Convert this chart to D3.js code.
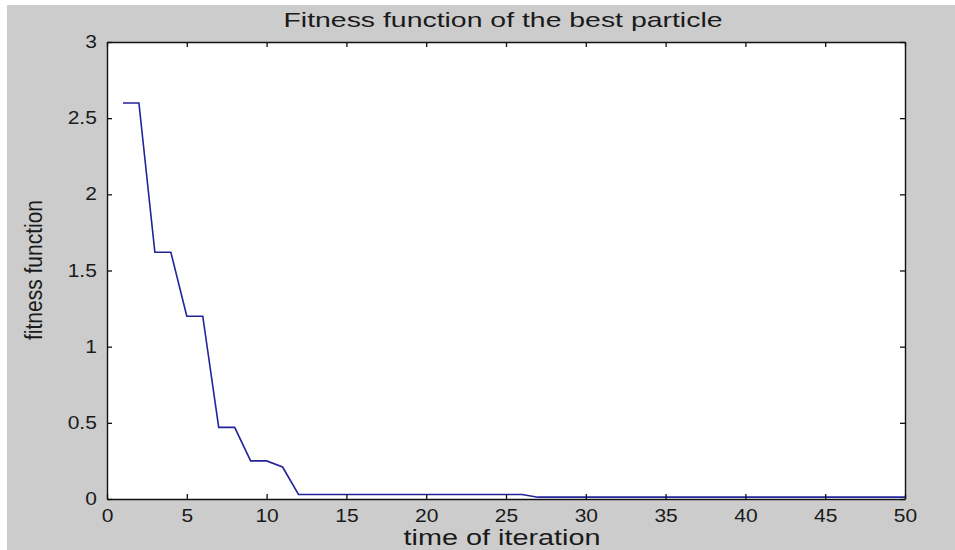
<!DOCTYPE html>
<html lang="en">
<head>
<meta charset="UTF-8">
<title>fitness of best particle</title>
<script src="https://cdn.jsdelivr.net/npm/d3@7"></script>
<style>
	body { margin: 0; background: #fff; }
	svg { display: block; font-family: "Liberation Sans", Arial, sans-serif; }
</style>
</head>
<body>
<svg id="chart" width="955" height="550"></svg>
<script>
// values
let iterations = [1,2,3,4,5,6,7,8,9,10,11,12,13,14,15,16,17,18,19,20,21,22,23,24,25,
	26,27,28,29,30,31,32,33,34,35,36,37,38,39,40,41,42,43,44,45,46,47,48,49,50]
let fitness = [2.6,2.6,1.62,1.62,1.2,1.2,0.47,0.47,0.25,0.25,0.21,0.03,
	0.03,0.03,0.03,0.03,0.03,0.03,0.03,0.03,0.03,0.03,0.03,0.03,0.03,0.03,
	0.012,0.012,0.012,0.012,0.012,0.012,0.012,0.012,0.012,0.012,0.012,0.012,
	0.012,0.012,0.012,0.012,0.012,0.012,0.012,0.012,0.012,0.012,0.012,0.012]
let xTicks = [0,5,10,15,20,25,30,35,40,45,50]
let yTicks = [0,0.5,1,1.5,2,2.5,3]
let yTickLabels = ["0","0.5","1","1.5","2","2.5","3"]

let svg = d3.select("#chart")
let pL = 107, pR = 905, pT = 42, pB = 499

// grey figure background with the thin white strip on top/left
svg.append("rect").attr("x",7).attr("y",5).attr("width",948).attr("height",545).attr("fill","#cccccc")
svg.append("rect").attr("x",pL).attr("y",pT).attr("width",pR-pL).attr("height",pB-pT).attr("fill","#fff")

let x = d3.scaleLinear().domain([0,50]).range([pL,pR])
let y = d3.scaleLinear().domain([0,3]).range([pB,pT])

let data = iterations.map((it,i) => ({it: it, val: fitness[i]}))

svg.append("path")
	.datum(data)
	.attr("fill","none")
	.attr("stroke","#23239b")
	.attr("stroke-width",1.6)
	.attr("d", d3.line().x(d => x(d.it)).y(d => y(d.val)))

function styleAxis(g){
	g.select(".domain").attr("stroke","#111").attr("stroke-width",1.4)
	g.selectAll(".tick line").attr("stroke","#111").attr("stroke-width",1.3)
	g.selectAll(".tick text").attr("fill","#1a1a1a").style("font-size","17.5px")
}

// bottom & left with labels, ticks pointing inward
let gx = svg.append("g").attr("transform","translate(0,"+pB+")")
	.call(d3.axisBottom(x).tickValues(xTicks).tickSizeInner(-5).tickSizeOuter(0).tickPadding(12))
styleAxis(gx)
gx.selectAll(".tick text").attr("y",23).attr("dy",null).attr("transform","scale(1.2,1)")

let gy = svg.append("g").attr("transform","translate("+pL+",0)")
	.call(d3.axisLeft(y).tickValues(yTicks).tickFormat((d,i) => yTickLabels[i]).tickSizeInner(-5).tickSizeOuter(0).tickPadding(9))
styleAxis(gy)
gy.selectAll(".tick text").attr("x",-8.5).attr("transform","scale(1.2,1)")

// top & right box sides, ticks only
let gt = svg.append("g").attr("transform","translate(0,"+pT+")")
	.call(d3.axisTop(x).tickValues(xTicks).tickSizeInner(-5).tickSizeOuter(0).tickFormat(""))
styleAxis(gt)
let gr = svg.append("g").attr("transform","translate("+pR+",0)")
	.call(d3.axisRight(y).tickValues(yTicks).tickSizeInner(-5).tickSizeOuter(0).tickFormat(""))
styleAxis(gr)

// titles
svg.append("text").attr("x",503).attr("y",27).attr("text-anchor","middle")
	.attr("fill","#1a1a1a").style("font-size","21px")
	.attr("textLength",439).attr("lengthAdjust","spacingAndGlyphs")
	.text("Fitness function of the best particle")

svg.append("text").attr("x",502).attr("y",545).attr("text-anchor","middle")
	.attr("fill","#1a1a1a").style("font-size","22px")
	.attr("textLength",197).attr("lengthAdjust","spacingAndGlyphs")
	.text("time of iteration")

svg.append("text").attr("transform","translate(42,270) rotate(-90)").attr("text-anchor","middle")
	.attr("fill","#1a1a1a").style("font-size","23px")
	.attr("textLength",140).attr("lengthAdjust","spacingAndGlyphs")
	.text("fitness function")
</script>
</body>
</html>
